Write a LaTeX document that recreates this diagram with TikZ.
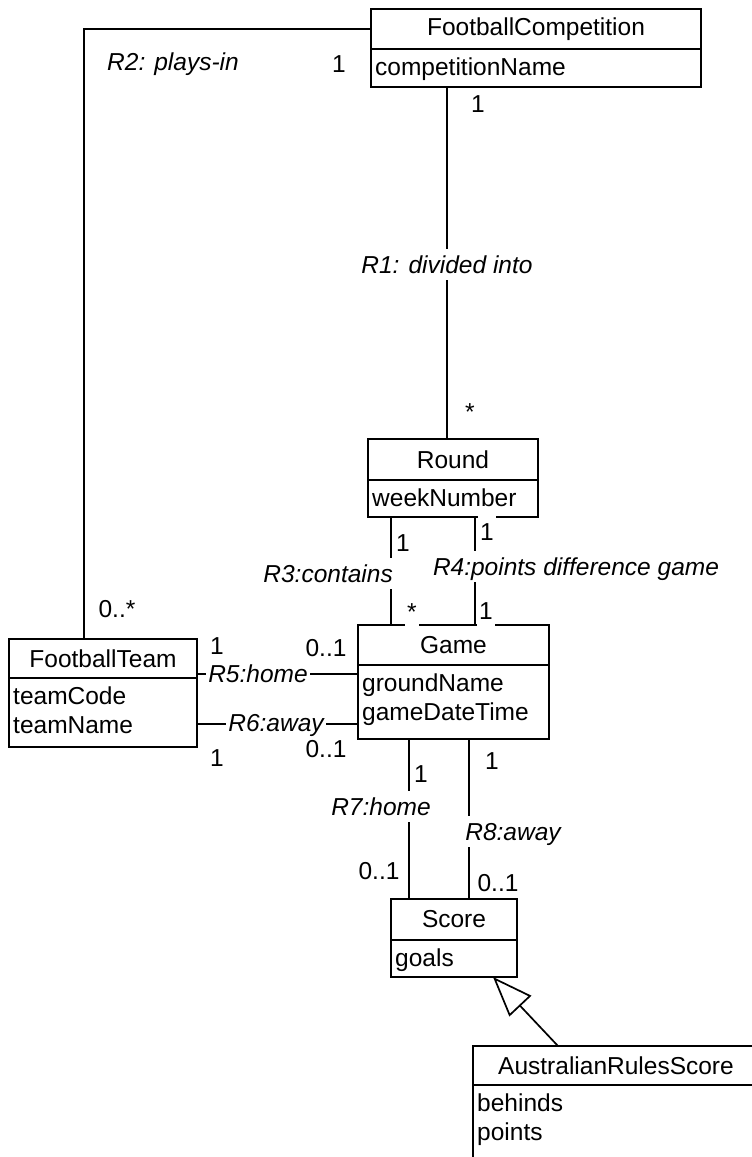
\documentclass[tikz,border=0pt]{standalone}
\usepackage{fontspec}
\setmainfont{Liberation Sans}
\usetikzlibrary{arrows.meta}

\tikzset{
  clshead/.style={draw, line width=1.7pt, inner sep=0pt, outer sep=0pt, font=\fontsize{24.5}{29}\selectfont},
  clsbody/.style={draw, line width=1.7pt, inner sep=0pt, outer sep=0pt, anchor=north},
  attrs/.style={anchor=north west, inner xsep=4pt, inner ysep=8.5pt, align=left, font=\fontsize{24.5}{29}\selectfont},
  mult/.style={anchor=base, fill=white, inner xsep=2pt, inner ysep=4pt, text height=20pt, text depth=3pt, font=\fontsize{24.5}{29}\selectfont},
  role/.style={mult, font=\fontsize{24.5}{29}\selectfont\itshape},
  conn/.style={line width=1.7pt},
}

\begin{document}
\begin{tikzpicture}[x=1pt, y=-1pt]
\useasboundingbox (0,0) rectangle (752,1157);

% classes
\node[clshead, minimum width=330pt, minimum height=40pt] (fc) at (536,29) {FootballCompetition};
\node[clsbody, minimum width=330pt, minimum height=38pt] (fcb) at (fc.south) {};
\node[attrs] (fcA) at (fcb.north west) {competitionName};

\node[clshead, minimum width=170pt, minimum height=41pt] (rnd) at (453,459.5) {Round};
\node[clsbody, minimum width=170pt, minimum height=37pt] (rndb) at (rnd.south) {};
\node[attrs] (rndA) at (rndb.north west) {weekNumber};

\node[clshead, minimum width=191pt, minimum height=40pt] (gm) at (453.5,645) {Game};
\node[clsbody, minimum width=191pt, minimum height=74pt] (gmb) at (gm.south) {};
\node[attrs] (gmA) at (gmb.north west) {groundName\\gameDateTime};

\node[clshead, minimum width=188pt, minimum height=39pt] (ft) at (103,658.5) {FootballTeam};
\node[clsbody, minimum width=188pt, minimum height=69pt] (ftb) at (ft.south) {};
\node[attrs] (ftA) at (ftb.north west) {teamCode\\teamName};

\node[clshead, minimum width=126pt, minimum height=41pt] (sc) at (454,919.5) {Score};
\node[clsbody, minimum width=126pt, minimum height=37pt] (scb) at (sc.south) {};
\node[attrs] (scA) at (scb.north west) {goals};

\node[clshead, minimum width=286pt, minimum height=39pt] (ars) at (616,1065.5) {AustralianRulesScore};
\node[clsbody, minimum width=286pt, minimum height=90pt] (arsb) at (ars.south) {};
\node[attrs] (arsA) at (arsb.north west) {behinds\\points};

% associations
\draw[conn] (fc.west) -| ([xshift=-19pt]ft.north);
\draw[conn] ([xshift=-6pt]rnd.north) -- ([xshift=-6pt]rnd.north |- fcb.south);
\draw[conn] ([xshift=-62pt]rndb.south) -- ([xshift=-62pt]rndb.south |- gm.north);
\draw[conn] ([xshift=22pt]rndb.south) -- ([xshift=22pt]rndb.south |- gm.north);
\draw[conn] ([yshift=-15.5pt]ft.east) -- ([yshift=-15.5pt]ft.east -| gmb.west);
\draw[conn] ([yshift=-11.5pt]ftb.east) -- ([yshift=-11.5pt]ftb.east -| gmb.west);
\draw[conn] ([xshift=-44.5pt]gmb.south) -- ([xshift=-44.5pt]gmb.south |- sc.north);
\draw[conn] ([xshift=15.5pt]gmb.south) -- ([xshift=15.5pt]gmb.south |- sc.north);
% generalization
\draw[conn, -{Triangle[open, length=40pt, width=30pt]}] ([xshift=-58pt]ars.north) -- ([xshift=39pt]scb.south);

% multiplicities
\node[mult] (mR2a) at (339,72) {1};
\node[mult] (mR2b) at (117,617) {0..*};
\node[mult] (mR1a) at (478,112) {1};
\node[mult] (mR1b) at (470,420) {*};
\node[mult] (mR3a) at (403,551) {1};
\node[mult] (mR3b) at (412,620) {*};
\node[mult] (mR4a) at (487,540) {1};
\node[mult] (mR4b) at (486,619) {1};
\node[mult] (mR5a) at (217,654) {1};
\node[mult] (mR5b) at (326,656) {0..1};
\node[mult] (mR6a) at (217,766) {1};
\node[mult] (mR6b) at (326,757) {0..1};
\node[mult] (mR7a) at (421,782) {1};
\node[mult] (mR7b) at (379,879) {0..1};
\node[mult] (mR8a) at (492,769) {1};
\node[mult] (mR8b) at (498,891) {0..1};

% role names
\node[role] (lR2) at (173,70) {R2: plays-in};
\node[role] (lR1) at (447,273) {R1: divided into};
\node[role, anchor=base east] (lR3) at (395,582) {R3:contains};
\node[role] (lR4) at (576,575) {R4:points difference game};
\node[role] (lR5) at (258,682) {R5:home};
\node[role] (lR6) at (276,731) {R6:away};
\node[role] (lR7) at (381,815) {R7:home};
\node[role] (lR8) at (513,840) {R8:away};
\end{tikzpicture}
\end{document}
